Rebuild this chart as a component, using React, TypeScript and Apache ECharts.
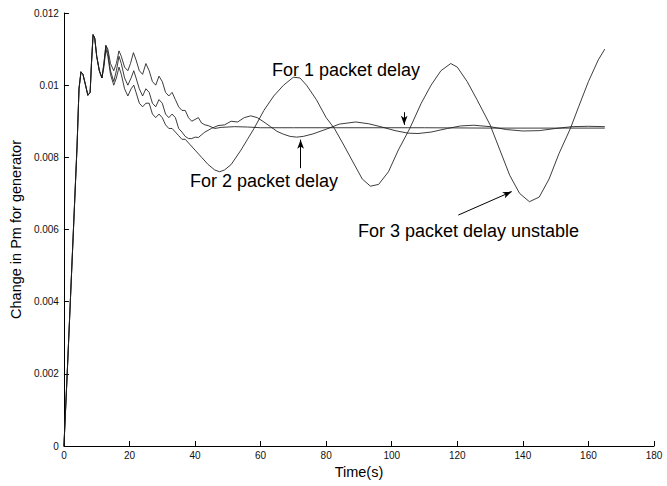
import React, { useEffect, useRef } from "react";
import * as echarts from "echarts";

const FONT = '"Liberation Sans", Arial, sans-serif';

// shared start-up transient (s, value)
const tCommon = [0, 1, 2, 3, 4, 4.6, 5.2, 5.8, 6.6, 7.3, 8.0, 8.4, 8.9, 9.4, 10.0, 10.8, 11.6];
const vCommon = [0, 0.002, 0.0041, 0.0062, 0.0083, 0.0099, 0.01037, 0.0103, 0.01, 0.00972, 0.0098, 0.0106, 0.0114, 0.0113, 0.0108, 0.0104, 0.0102];

// 1 packet delay
const t1 = [12.2, 12.8, 13.4, 14.2, 15.2, 16.0, 16.8, 17.5, 18.5, 19.5, 20.3, 21.2, 22, 23, 24, 25, 26, 27, 28, 29, 30, 31, 32, 33, 34, 35, 36, 37, 38, 39, 40, 41, 42, 43, 44, 46, 48, 52, 56, 60, 70, 90, 110, 130, 150, 165];
const v1 = [0.0106, 0.0111, 0.011, 0.0106, 0.0104, 0.0106, 0.01095, 0.0108, 0.0105, 0.0104, 0.0106, 0.0109, 0.0107, 0.0104, 0.0103, 0.0106, 0.0104, 0.0101, 0.01, 0.01025, 0.0101, 0.0098, 0.0097, 0.0098, 0.0096, 0.0094, 0.0093, 0.0093, 0.0091, 0.009, 0.00905, 0.0091, 0.00895, 0.0089, 0.00888, 0.0088, 0.00883, 0.00885, 0.00884, 0.00882, 0.00882, 0.00882, 0.00882, 0.00881, 0.00881, 0.00881];

// 2 packet delay
const t2 = [12.2, 12.8, 13.4, 14.2, 15.2, 16.0, 16.8, 17.5, 18.5, 19.5, 20.5, 21.3, 22, 23, 24, 25, 26, 27, 28, 29, 30, 31, 32, 33, 34, 35, 36, 37, 38, 39, 40, 41, 43, 45, 47, 49, 51, 53, 55, 57, 59, 61, 63, 65, 67, 69, 71, 73, 76, 80, 84, 89, 93, 97, 101, 105, 108, 112, 117, 121, 125, 130, 135, 140, 145, 150, 155, 160, 165];
const v2 = [0.0106, 0.0111, 0.0109, 0.0104, 0.0101, 0.0104, 0.0108, 0.0106, 0.0102, 0.01, 0.0102, 0.0104, 0.0102, 0.0099, 0.0097, 0.0099, 0.0098, 0.0095, 0.0094, 0.0096, 0.0095, 0.0092, 0.0091, 0.0092, 0.0091, 0.0088, 0.0087, 0.00858, 0.00852, 0.00852, 0.00856, 0.00855, 0.0087, 0.0088, 0.00888, 0.0089, 0.009, 0.00898, 0.0091, 0.00915, 0.0091, 0.00898, 0.00885, 0.00872, 0.00864, 0.00858, 0.00856, 0.00858, 0.00865, 0.00878, 0.00892, 0.00898, 0.00893, 0.00884, 0.00874, 0.00867, 0.00866, 0.0087, 0.0088, 0.00887, 0.00889, 0.00885, 0.00877, 0.00873, 0.00874, 0.0088, 0.00885, 0.00886, 0.00885];

// 3 packet delay (unstable)
const t3 = [12.2, 12.8, 13.4, 14.2, 15.2, 16.0, 16.8, 17.5, 18.5, 19.5, 20.5, 21.3, 22, 23, 24, 25, 26, 27, 28, 29, 30, 31, 32, 33, 34, 35, 36, 37, 38, 40, 42, 44, 46, 47.5, 49, 51, 54, 56, 58, 61, 64, 67, 70, 72, 74, 77, 80, 82.5, 85, 88, 91, 93.5, 96, 99, 102, 105.5, 109, 112, 115, 118, 120, 123, 126, 130, 133, 136, 139, 142, 145, 148, 151, 154.5, 157, 160, 163, 165];
const v3 = [0.0105, 0.011, 0.0108, 0.0103, 0.01, 0.0102, 0.0105, 0.0103, 0.0099, 0.0097, 0.0099, 0.01, 0.0098, 0.0095, 0.0094, 0.0095, 0.0095, 0.0092, 0.0091, 0.0092, 0.0091, 0.0089, 0.0088, 0.0088, 0.0087, 0.0086, 0.0085, 0.0085, 0.0084, 0.0082, 0.008, 0.0078, 0.00765, 0.0076, 0.00765, 0.0078, 0.0082, 0.0085, 0.0088, 0.0093, 0.0097, 0.01, 0.01022, 0.0102, 0.01, 0.0096, 0.0091, 0.0088, 0.0084, 0.0079, 0.0074, 0.0072, 0.00725, 0.0076, 0.0082, 0.0088, 0.0095, 0.01, 0.0104, 0.0106, 0.0105, 0.0101, 0.0096, 0.0089, 0.0082, 0.0075, 0.007, 0.00677, 0.0069, 0.0074, 0.0081, 0.0088, 0.0094, 0.0101, 0.0107, 0.011];

const xTicks = [0, 20, 40, 60, 80, 100, 120, 140, 160, 180];
const yTicks = [0, 0.002, 0.004, 0.006, 0.008, 0.01, 0.012];

// annotation arrows in data coordinates [from, to]
const arrow1 = [[103.8, 0.00925], [103.8, 0.0089]];
const arrow2 = [[72.2, 0.0077], [72.2, 0.00849]];
const arrow3 = [[120.3, 0.0064], [136.6, 0.00705]];

const build = (ts: number[], vs: number[]) =>
  tCommon.map((t, i) => [t, vCommon[i]]).concat(ts.map((t, i) => [t, vs[i]]));

export default function App() {
  const ref = useRef<HTMLDivElement>(null);
  useEffect(() => {
    if (!ref.current) return;
    const chart = echarts.init(ref.current, null, { renderer: "svg" });
    const lineStyle = { color: "#1a1a1a", width: 0.85 };
    const arrowLine = (a: number[][]) => ({
      silent: true,
      symbol: ["none", "arrow"],
      symbolSize: [5, 9],
      label: { show: false },
      lineStyle: { color: "#000", width: 1, type: "solid" },
      data: [[{ coord: a[0] }, { coord: a[1] }]],
    });
    const annot = (text: string, x: number, y: number) => ({
      type: "text",
      x,
      y,
      style: {
        text,
        fill: "#000",
        font: `18px ${FONT}`,
        textAlign: "left",
        textVerticalAlign: "middle",
      },
    });
    chart.setOption({
      animation: false,
      backgroundColor: "#fff",
      grid: { left: 63, right: 13, top: 13, bottom: 40, containLabel: false },
      xAxis: {
        type: "value",
        min: xTicks[0],
        max: xTicks[xTicks.length - 1],
        interval: 20,
        name: "Time(s)",
        nameLocation: "middle",
        nameGap: 15,
        nameTextStyle: { fontFamily: FONT, fontSize: 14.5, color: "#000" },
        axisLine: { show: true, lineStyle: { color: "#000", width: 1 } },
        axisTick: { show: true, inside: true, length: 5, lineStyle: { color: "#000" } },
        axisLabel: { fontFamily: FONT, fontSize: 10, color: "#111", margin: 4 },
        splitLine: { show: false },
      },
      yAxis: {
        type: "value",
        min: yTicks[0],
        max: yTicks[yTicks.length - 1],
        interval: 0.002,
        name: "Change in Pm for generator",
        nameLocation: "middle",
        nameGap: 39,
        nameTextStyle: { fontFamily: FONT, fontSize: 14.5, color: "#000" },
        axisLine: { show: true, lineStyle: { color: "#000", width: 1 } },
        axisTick: { show: true, inside: true, length: 5, lineStyle: { color: "#000" } },
        axisLabel: {
          fontFamily: FONT,
          fontSize: 10,
          color: "#111",
          margin: 5,
          formatter: (v: number) => String(parseFloat(v.toFixed(3))),
        },
        splitLine: { show: false },
      },
      series: [
        {
          name: "For 1 packet delay",
          type: "line",
          data: build(t1, v1),
          showSymbol: false,
          lineStyle,
          markLine: arrowLine(arrow1),
        },
        {
          name: "For 2 packet delay",
          type: "line",
          data: build(t2, v2),
          showSymbol: false,
          lineStyle,
          markLine: arrowLine(arrow2),
        },
        {
          name: "For 3 packet delay unstable",
          type: "line",
          data: build(t3, v3),
          showSymbol: false,
          lineStyle,
          markLine: arrowLine(arrow3),
        },
      ],
      graphic: [
        annot("For 1 packet delay", 272, 70),
        annot("For 2 packet delay", 190, 181),
        annot("For 3 packet delay unstable", 358, 231),
      ],
    });
    return () => chart.dispose();
  }, []);
  return (
    <div
      ref={ref}
      style={{ position: "fixed", left: 0, top: 0, width: 667, height: 486, background: "#fff" }}
    />
  );
}
